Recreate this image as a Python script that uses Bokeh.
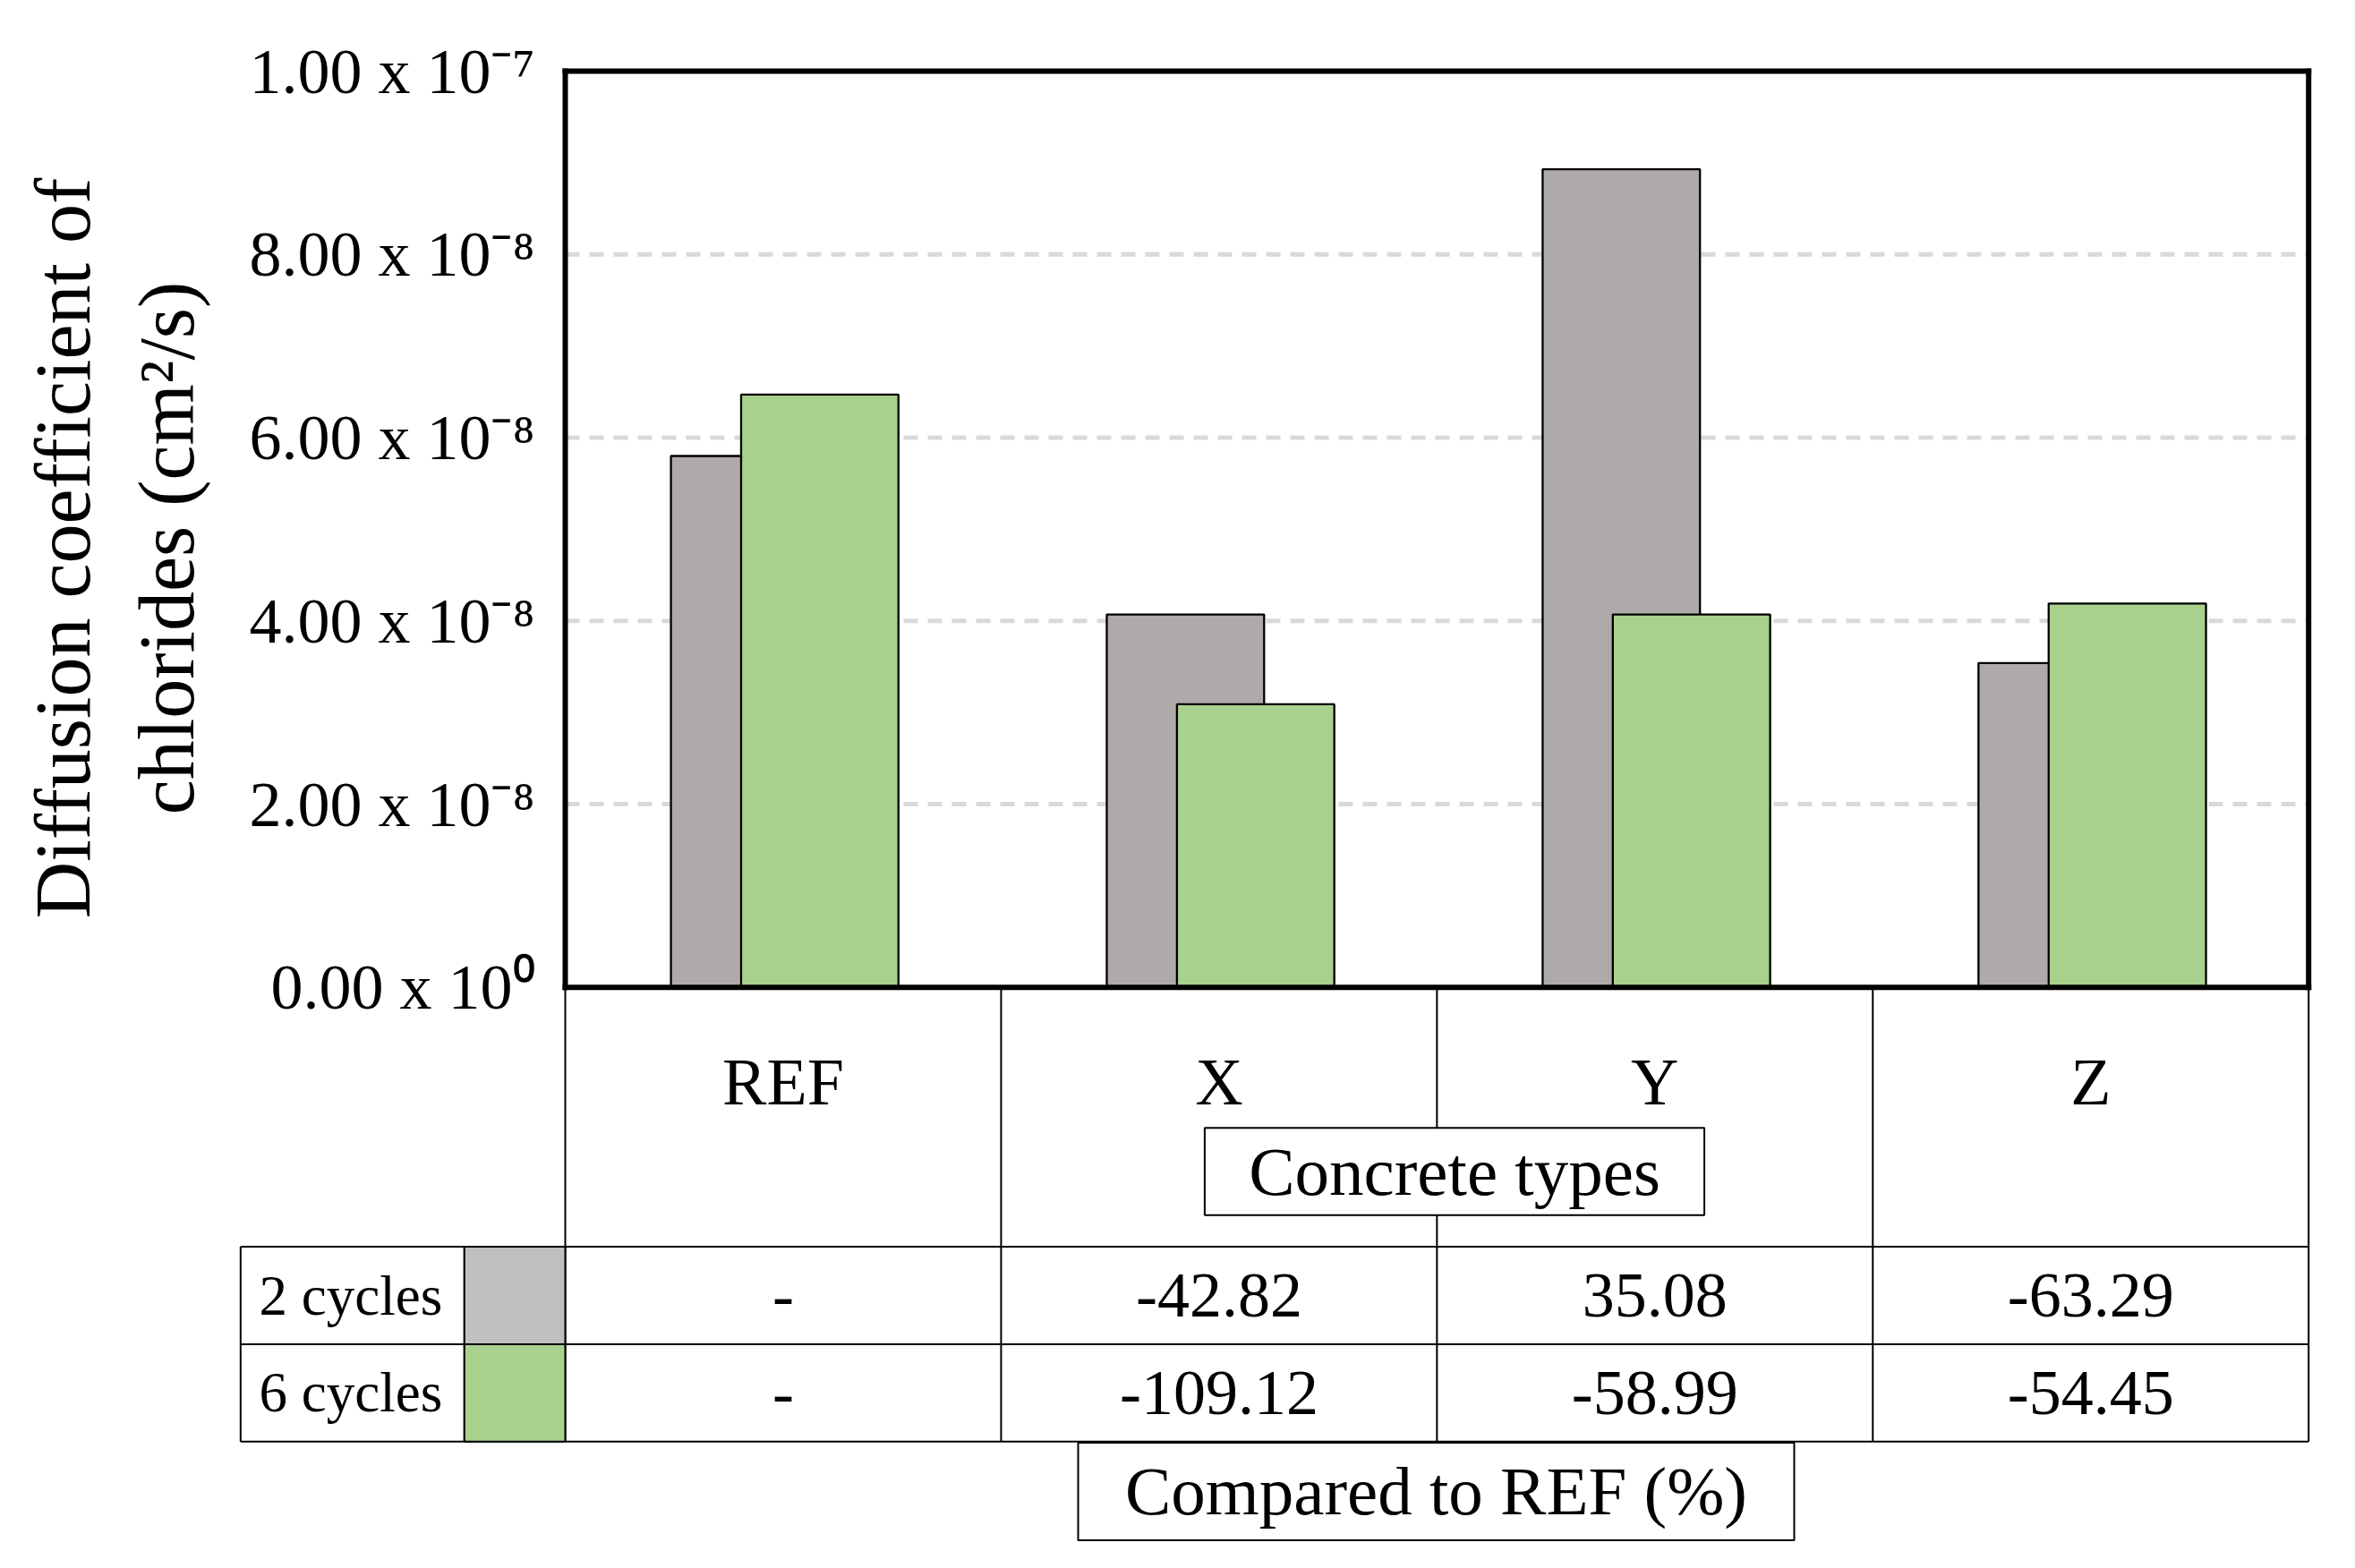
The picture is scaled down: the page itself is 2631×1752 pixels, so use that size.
from bokeh.plotting import figure
from bokeh.models import Range1d, FixedTicker, ColumnDataSource, CustomJSTickFormatter
from bokeh.transform import dodge
from bokeh.embed import file_html
from bokeh.resources import INLINE
from bokeh.core.properties import value

# ---------------- data ----------------
categories = ["REF", "X", "Y", "Z"]
series_names = ["2 cycles", "6 cycles"]
cycles2 = [5.80e-8, 4.07e-8, 8.93e-8, 3.54e-8]
cycles6 = [6.47e-8, 3.09e-8, 4.07e-8, 4.19e-8]
pct2 = ["-", "-42.82", "35.08", "-63.29"]
pct6 = ["-", "-109.12", "-58.99", "-54.45"]
y_ticks = [0, 2e-8, 4e-8, 6e-8, 8e-8, 1e-7]
y_tick_labels = ["0.00 x 10\u2070", "2.00 x 10\u207b\u2078", "4.00 x 10\u207b\u2078",
                 "6.00 x 10\u207b\u2078", "8.00 x 10\u207b\u2078", "1.00 x 10\u207b\u2077"]
y_title = "Diffusion coefficient of\nchlorides (cm\u00b2/s)"
x_title = "Concrete types"
table_title = "Compared to REF (%)"

# ---------------- style / layout (canvas px) ----------------
FONT = "Liberation Serif"
GRAY = "#AEAAAA"
GREEN = "#A9D18E"
SW_GRAY = "#BFBFBF"
W, H = 2615, 1738
BOX_L, BOX_R, BOX_T, BOX_B = 631.0, 2578.7, 79.0, 1102.8
NCAT = len(categories)
CAT_PX = (BOX_R - BOX_L) / NCAT
YMAX = y_ticks[-1]
Y_PX = (BOX_B - BOX_T) / YMAX


def u(px):
    return (px - BOX_L) / CAT_PX


def yv(py):
    return (BOX_B - py) / Y_PX


p = figure(width=W, height=H,
           x_range=Range1d(u(0), u(W)), y_range=Range1d(yv(H), yv(0)),
           output_backend="svg", toolbar_location=None, x_axis_location=None,
           min_border_left=0, min_border_right=0, min_border_top=0, min_border_bottom=0)
p.outline_line_color = None
p.background_fill_color = "white"
p.border_fill_color = "white"
p.grid.visible = False

ax = p.yaxis[0]
ax.fixed_location = 0
ax.bounds = (yv(1145), YMAX)
ax.ticker = FixedTicker(ticks=y_ticks)
ax.formatter = CustomJSTickFormatter(args=dict(tvals=y_ticks, tlabels=y_tick_labels), code="""
let best = 0, d = Infinity;
for (let i = 0; i < tvals.length; i++) {
  const e = Math.abs(tvals[i] - tick);
  if (e < d) { d = e; best = i; }
}
return tlabels[best];
""")
ax.major_tick_line_color = None
ax.minor_tick_line_color = None
ax.axis_line_color = None
ax.major_label_standoff = 28
ax.major_label_text_font = FONT
ax.major_label_text_font_size = "72px"
ax.major_label_text_color = "black"
ax.axis_label = y_title
ax.axis_label_text_font = FONT
ax.axis_label_text_font_size = "88px"
ax.axis_label_text_font_style = "normal"
ax.axis_label_text_color = "black"
ax.axis_label_standoff = 40

# dashed horizontal gridlines inside the plot box
grid_vals = y_ticks[1:-1]
p.segment(x0=[0] * len(grid_vals), y0=grid_vals, x1=[NCAT] * len(grid_vals), y1=grid_vals,
          line_color="#D9D9D9", line_width=5, line_dash="16 11")

src = ColumnDataSource(dict(x=[i + 0.5 for i in range(NCAT)], c2=cycles2, c6=cycles6))
p.vbar(x=dodge("x", -0.077), top="c2", bottom=0, width=0.361, source=src,
       fill_color=GRAY, line_color="black", line_width=2.3)
p.vbar(x=dodge("x", 0.084), top="c6", bottom=0, width=0.361, source=src,
       fill_color=GREEN, line_color="black", line_width=2.3)

# ---------------- data table ----------------
TBL_L, SW_L = 268.3, 518.3
R0, R1, R2 = 1392.5, 1501.5, 1610.3
CAT_Y = 1208
CT_BOX = (1345.4, 1903.6, 1259.7, 1357.3)
CMP_BOX = (1204, 2004, 1611.4, 1720.4)
ROW_X = 289
thin = dict(line_color="black", line_width=2)

edges = list(range(NCAT + 1))
p.segment(x0=edges, y0=[0] * len(edges), x1=edges, y1=[yv(R2)] * len(edges), **thin)
rows = [yv(R0), yv(R1), yv(R2)]
p.segment(x0=[u(TBL_L)] * 3, y0=rows, x1=[NCAT] * 3, y1=rows, **thin)
p.segment(x0=[u(TBL_L), u(SW_L)], y0=[yv(R0)] * 2, x1=[u(TBL_L), u(SW_L)], y1=[yv(R2)] * 2, **thin)
p.quad(left=[u(SW_L)] * 2, right=[0, 0], top=[yv(R0), yv(R1)], bottom=[yv(R1), yv(R2)],
       fill_color=[SW_GRAY, GREEN], **thin)

# thick plot box
p.segment(x0=[0, NCAT, 0, 0], y0=[0, 0, 0, YMAX], x1=[0, NCAT, NCAT, NCAT], y1=[YMAX, YMAX, 0, YMAX],
          line_color="black", line_width=6, line_cap="square")

txt = dict(text_font=value(FONT), text_color="black", text_baseline="middle")
centers = [i + 0.5 for i in range(NCAT)]
p.text(x=centers, y=[yv(CAT_Y)] * NCAT, text=categories, text_align="center",
       text_font_size="74px", **txt)
p.text(x=centers, y=[yv((R0 + R1) / 2)] * NCAT, text=pct2, text_align="center",
       text_font_size="72px", **txt)
p.text(x=centers, y=[yv((R1 + R2) / 2)] * NCAT, text=pct6, text_align="center",
       text_font_size="72px", **txt)
p.text(x=[u(ROW_X)] * 2, y=[yv((R0 + R1) / 2), yv((R1 + R2) / 2)], text=series_names,
       text_align="left", text_font_size="63px", **txt)

for (l, r, t, b), label in ((CT_BOX, x_title), (CMP_BOX, table_title)):
    p.quad(left=[u(l)], right=[u(r)], top=[yv(t)], bottom=[yv(b)],
           fill_color="white", **thin)
    p.text(x=[(u(l) + u(r)) / 2], y=[yv((t + b) / 2)], text=[label], text_align="center",
           text_font_size="77px", **txt)

open("out.html", "w").write(file_html(p, INLINE))
